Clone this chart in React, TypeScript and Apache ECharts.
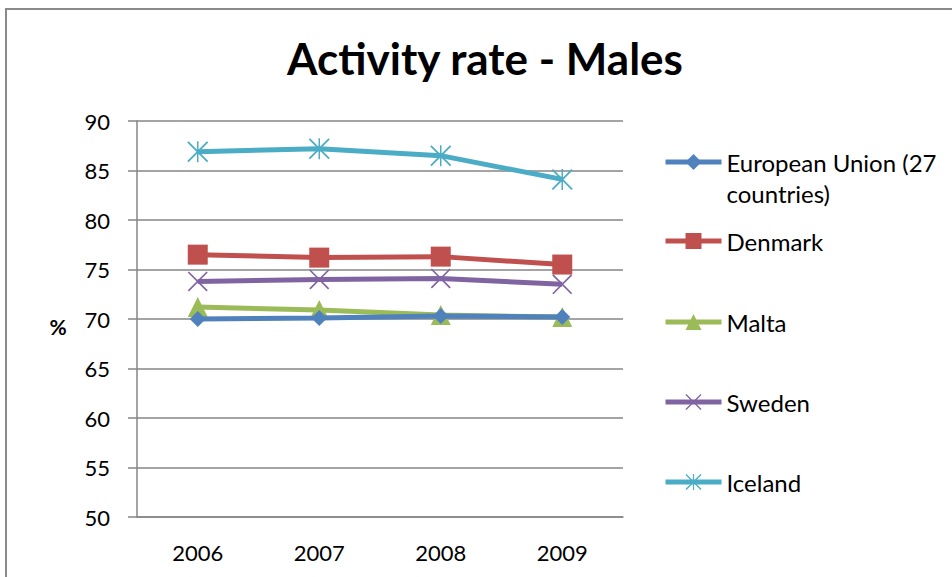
import React, { useEffect, useRef } from "react";
import * as echarts from "echarts";

const years = ["2006", "2007", "2008", "2009"];
const euValues = [70.0, 70.1, 70.3, 70.2];
const denmarkValues = [76.5, 76.2, 76.3, 75.5];
const maltaValues = [71.2, 70.9, 70.4, 70.2];
const swedenValues = [73.8, 74.0, 74.1, 73.5];
const icelandValues = [86.9, 87.2, 86.5, 84.1];
const seriesNames = ["European Union (27\ncountries)", "Denmark", "Malta", "Sweden", "Iceland"];
const colors = ["#4F81BD", "#C0504D", "#9BBB59", "#8064A2", "#4BACC6"];

const FONT = "Lato, 'Open Sans', sans-serif";
const X_SYMBOL = "path://M0,1.2L1.2,0L20,18.8L18.8,20ZM18.8,0L20,1.2L1.2,20L0,18.8Z";
const STAR_SYMBOL =
  "path://M0,1.2L1.2,0L20,18.8L18.8,20ZM18.8,0L20,1.2L1.2,20L0,18.8ZM9.3,0L10.7,0L10.7,20L9.3,20Z";

export default function App() {
  const ref = useRef<HTMLDivElement>(null);
  useEffect(() => {
    if (!ref.current) return;
    const chart = echarts.init(ref.current, null, { renderer: "svg" });
    const L = 31;
    const legendCenters = [162, 241, 322, 402, 482];
    const data = [euValues, denmarkValues, maltaValues, swedenValues, icelandValues];
    const symbols = ["diamond", "rect", "triangle", X_SYMBOL, STAR_SYMBOL];
    const sizes = [16, 20, 20, 20, 21];
    const series = seriesNames.map((name, i) => ({
      name,
      type: "line",
      data: data[i],
      symbol: symbols[i],
      symbolSize: sizes[i],
      showSymbol: true,
      lineStyle: { color: colors[i], width: 5 },
      itemStyle: { color: colors[i] },
      emphasis: { disabled: true },
      z: 10 - i,
    }));
    const legends = seriesNames.map((name, i) => ({
      data: [name],
      left: 663,
      top: i === 0 ? legendCenters[i] - 1.5 * L : legendCenters[i] - L / 2,
      padding: 0,
      itemWidth: 56,
      itemHeight: 20,
      selectedMode: false,
      formatter: (n: string) => (i === 0 ? " \n" + n : n),
      lineStyle: { width: 5 },
      textStyle: {
        fontFamily: FONT,
        fontSize: 24,
        color: "#000",
        lineHeight: L,
      },
    }));
    chart.setOption({
      animation: false,
      backgroundColor: "#fff",
      title: {
        text: "Activity rate - Males",
        left: 480,
        textAlign: "center",
        top: 31,
        textStyle: { fontFamily: FONT, fontWeight: "bold", fontSize: 44, color: "#000" },
      },
      legend: legends,
      grid: { left: 137, right: 329, top: 121, bottom: 60, containLabel: false },
      xAxis: {
        type: "category",
        data: years,
        boundaryGap: true,
        axisLine: { lineStyle: { color: "#868686", width: 1.5 } },
        axisTick: { show: false },
        axisLabel: { fontFamily: FONT, fontSize: 22, color: "#000", margin: 24 },
      },
      yAxis: {
        type: "value",
        min: 50,
        max: 90,
        interval: 5,
        axisLine: { show: true, lineStyle: { color: "#868686", width: 1.5 } },
        axisTick: { show: true, length: 9, lineStyle: { color: "#868686", width: 1.5 } },
        splitLine: { lineStyle: { color: "#868686", width: 1.5 } },
        axisLabel: { fontFamily: FONT, fontSize: 22, color: "#000", margin: 27 },
      },
      graphic: [
        {
          type: "rect",
          shape: { x: 6, y: 9, width: 1200, height: 1000 },
          style: { fill: "none", stroke: "#8a8a8a", lineWidth: 2 },
          silent: true,
        },
        {
          type: "text",
          x: 58,
          y: 326,
          style: {
            text: "%",
            fontFamily: FONT,
            fontWeight: "bold",
            fontSize: 21,
            fill: "#000",
            textAlign: "center",
            textVerticalAlign: "middle",
          },
        },
      ],
      series,
    });
    return () => chart.dispose();
  }, []);
  return (
    <div
      ref={ref}
      style={{ position: "fixed", left: 0, top: 0, width: 952, height: 577 }}
    />
  );
}
